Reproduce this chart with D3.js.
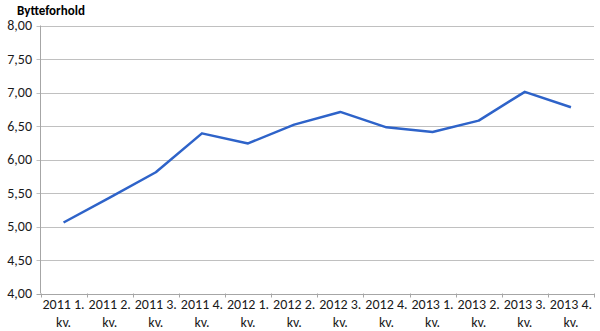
<!DOCTYPE html>
<html><head><meta charset="utf-8">
<script src="https://cdn.jsdelivr.net/npm/d3@7"></script>
<style>body{margin:0;background:#fff}svg{display:block}</style>
</head><body>
<svg id="c" width="600" height="331"></svg>
<script>
const categories = ["2011 1. kv.","2011 2. kv.","2011 3. kv.","2011 4. kv.","2012 1. kv.","2012 2. kv.","2012 3. kv.","2012 4. kv.","2013 1. kv.","2013 2. kv.","2013 3. kv.","2013 4. kv."];
const values = [5.06, 5.43, 5.81, 6.39, 6.24, 6.52, 6.71, 6.48, 6.41, 6.58, 7.01, 6.78];
const yTicks = [4.0, 4.5, 5.0, 5.5, 6.0, 6.5, 7.0, 7.5, 8.0];
const title = "Bytteforhold";

const svg = d3.select("#c");
const m = {l: 40.5, r: 594, t: 25.5, b: 293.5};
const font = "Calibri, Carlito, 'Liberation Sans', Arial, sans-serif";

const x = d3.scaleBand().domain(categories).range([m.l, m.r]);
const y = d3.scaleLinear().domain([4, 8]).range([m.b, m.t]);

svg.append("g").selectAll("line").data(yTicks).join("line")
  .attr("x1", m.l - 4).attr("x2", m.r)
  .attr("y1", d => Math.round(y(d)) + 0.5).attr("y2", d => Math.round(y(d)) + 0.5)
  .attr("stroke", d => d === 4 ? "#a6a6a6" : "#c0c0c0").attr("stroke-width", 1);

svg.append("line").attr("x1", m.l).attr("x2", m.l).attr("y1", m.t).attr("y2", m.b)
  .attr("stroke", "#a6a6a6");

svg.append("g").selectAll("text").data(yTicks).join("text")
  .attr("x", 32).attr("y", d => y(d)).attr("dy", "0.35em")
  .attr("text-anchor", "end").attr("font-family", font).attr("font-size", 14)
  .attr("fill", "#1a1a1a")
  .text(d => d3.format(".2f")(d).replace(".", ","));

const bounds = categories.map(c => x(c)).concat([m.r]);
svg.append("g").selectAll("line").data(bounds).join("line")
  .attr("x1", d => Math.round(d) + 0.5).attr("x2", d => Math.round(d) + 0.5)
  .attr("y1", m.b).attr("y2", m.b + 4)
  .attr("stroke", "#a6a6a6");

const xl = svg.append("g").selectAll("text").data(categories).join("text")
  .attr("text-anchor", "middle").attr("font-family", font).attr("font-size", 14)
  .attr("fill", "#1a1a1a");
xl.each(function(d) {
  const parts = d.split(" ");
  const t = d3.select(this);
  const cx = x(d) + x.bandwidth() / 2;
  t.append("tspan").attr("x", cx).attr("y", 309).text(parts[0] + " " + parts[1]);
  t.append("tspan").attr("x", cx).attr("y", 327).text(parts[2]);
});

const line = d3.line().x((d, i) => x(categories[i]) + x.bandwidth() / 2).y(d => y(d));
svg.append("path").datum(values).attr("d", line)
  .attr("fill", "none").attr("stroke", "#2e63c9").attr("stroke-width", 2.5)
  .attr("stroke-linejoin", "round");

svg.append("text").attr("x", 17).attr("y", 15).attr("font-family", font)
  .attr("font-size", 13).attr("font-weight", "bold").attr("fill", "#000")
  .text(title);
</script>
</body></html>
